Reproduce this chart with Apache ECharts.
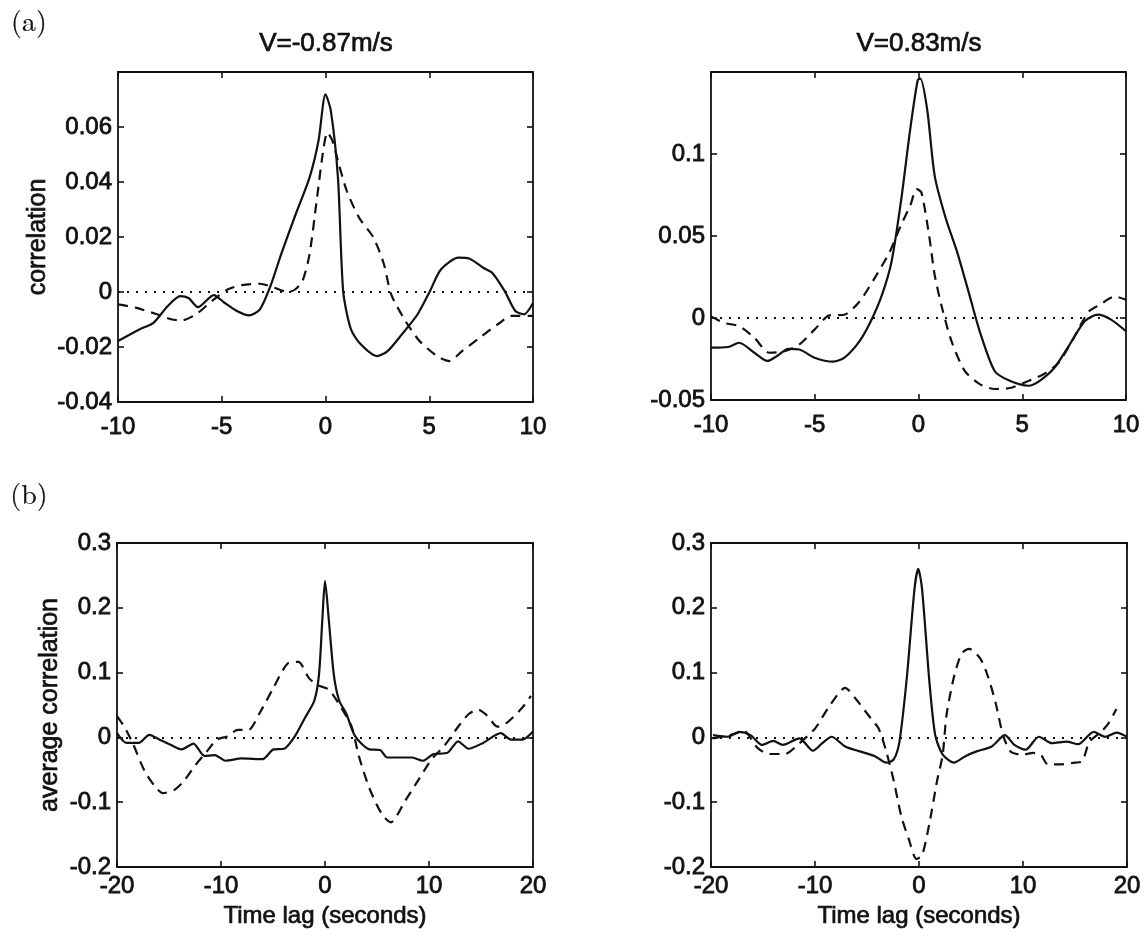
<!DOCTYPE html>
<html>
<head>
<meta charset="utf-8">
<script src="https://cdn.jsdelivr.net/npm/echarts@6/dist/echarts.min.js"></script>
<style>
  html, body { margin: 0; padding: 0; background: #fff; }
  #chart { width: 1148px; height: 936px; }
</style>
</head>
<body>
<div id="chart"></div>
<script>
// (a) cross-correlation at two wind speeds, [lag in s, correlation]
const negSpeedSolid = [[-10,-0.0178],[-8.97,-0.0136],[-8.29,-0.0112],[-7.6,-0.0051],[-7.0,-0.0015],[-6.6,-0.0022],[-6.15,-0.0055],[-5.38,-0.0011],[-4.87,-0.0039],[-4.27,-0.0069],[-3.68,-0.0085],[-3.16,-0.0063],[-2.65,0.0022],[-2.14,0.0137],[-1.45,0.028],[-0.77,0.0416],[-0.34,0.0549],[0,0.0719],[0.26,0.0658],[0.6,0.0416],[0.85,0.0004],[1.2,-0.013],[1.62,-0.0184],[2.48,-0.0233],[2.99,-0.0215],[3.68,-0.0154],[4.44,-0.0081],[5.04,0.0004],[5.56,0.0082],[6.41,0.0125],[6.92,0.0122],[7.6,0.0088],[8.03,0.007],[8.63,0.0004],[9.15,-0.0069],[9.57,-0.0081],[10,-0.004]];
const negSpeedDashed = [[-10,-0.0045],[-9.15,-0.0057],[-8.12,-0.0081],[-7.44,-0.0099],[-6.92,-0.0103],[-6.24,-0.0081],[-5.38,-0.0027],[-4.7,0.001],[-4.02,0.0025],[-3.16,0.003],[-2.48,0.0016],[-1.79,0],[-1.45,0.001],[-1.11,0.004],[-0.77,0.0137],[-0.43,0.033],[-0.09,0.0525],[0.09,0.058],[0.34,0.0549],[0.6,0.0476],[1.03,0.0367],[1.62,0.027],[2.31,0.0198],[2.82,0.01],[3.16,-0.0008],[3.85,-0.0105],[4.53,-0.0178],[5.38,-0.0233],[5.98,-0.0251],[6.58,-0.0215],[7.44,-0.0166],[8.29,-0.0118],[8.97,-0.0087],[10,-0.0087]];
const posSpeedSolid = [[-10,-0.0181],[-9.18,-0.0177],[-8.64,-0.0151],[-7.91,-0.0212],[-7.28,-0.0262],[-6.82,-0.0232],[-6.28,-0.0188],[-5.74,-0.0192],[-5.01,-0.0242],[-4.11,-0.0266],[-3.57,-0.0242],[-2.84,-0.0141],[-2.3,-0.002],[-1.76,0.0141],[-1.3,0.0343],[-0.85,0.0706],[-0.4,0.115],[-0.04,0.145],[0.09,0.146],[0.42,0.127],[0.78,0.0867],[1.32,0.0605],[1.86,0.0403],[2.41,0.0161],[2.95,-0.0081],[3.67,-0.0323],[4.4,-0.0383],[5.3,-0.0413],[5.84,-0.0383],[6.56,-0.0302],[7.29,-0.0161],[8.01,-0.002],[8.64,0.002],[9.28,-0.001],[10,-0.0081]];
const posSpeedDashed = [[-10,0.001],[-9.37,-0.003],[-8.64,-0.005],[-7.91,-0.0121],[-7.19,-0.0212],[-6.46,-0.0202],[-5.74,-0.0161],[-5.01,-0.0071],[-4.29,0.0016],[-3.57,0.002],[-2.84,0.0101],[-2.12,0.0242],[-1.39,0.0403],[-0.85,0.0565],[-0.4,0.0685],[-0.09,0.0786],[0.14,0.0766],[0.51,0.0504],[0.78,0.0262],[1.14,0.006],[1.59,-0.0141],[2.23,-0.0323],[2.95,-0.0403],[3.67,-0.0433],[4.4,-0.0427],[5.12,-0.0393],[6.03,-0.0343],[6.76,-0.0272],[7.48,-0.0121],[8.21,0.004],[8.74,0.0081],[9.46,0.0131],[10,0.0111]];

// (b) average correlation, [lag in s, correlation]
const negAvgSolid = [[-20,0.0065],[-19.1,-0.0085],[-17.9,-0.0085],[-16.9,0.004],[-15.9,-0.0035],[-14.9,-0.011],[-13.8,-0.0185],[-12.65,-0.0095],[-11.6,-0.0285],[-10.6,-0.0275],[-9.57,-0.036],[-8.03,-0.0325],[-5.98,-0.0335],[-4.96,-0.0185],[-3.93,-0.0175],[-2.91,0.0015],[-1.88,0.0315],[-1.03,0.0565],[-0.58,0.0965],[-0.24,0.1865],[0,0.2415],[0.34,0.1865],[0.85,0.0965],[1.37,0.0565],[2.05,0.0365],[2.91,0.0015],[4.27,-0.0185],[5.3,-0.0195],[5.98,-0.031],[7.35,-0.031],[8.38,-0.031],[9.4,-0.036],[10.4,-0.026],[11.8,-0.0235],[12.8,-0.006],[13.8,-0.0175],[15.2,-0.0085],[16.9,0.0065],[17.9,-0.0035],[18.97,-0.0035],[20,0.009]];
const negAvgDashed = [[-20,0.033],[-19.3,0.0165],[-18.5,-0.0085],[-17.3,-0.0535],[-16.2,-0.0785],[-15.6,-0.086],[-14.5,-0.081],[-13.5,-0.066],[-12.5,-0.0435],[-11.45,-0.0235],[-10.4,-0.0035],[-9.4,0.0015],[-8.38,0.0115],[-7.35,0.0115],[-6.32,0.0365],[-4.96,0.0765],[-3.59,0.114],[-2.56,0.1165],[-1.54,0.0915],[-0.68,0.0805],[0.34,0.074],[1.54,0.0465],[2.56,0.0165],[3.25,-0.0285],[4.27,-0.0785],[5.47,-0.1185],[6.32,-0.131],[7.69,-0.0985],[9.06,-0.0635],[10.26,-0.0335],[11.45,-0.0135],[12.8,0.0165],[13.85,0.0365],[14.7,0.043],[15.56,0.034],[16.6,0.0165],[17.6,0.024],[19,0.0465],[19.8,0.064]];
const posAvgSolid = [[-19.8,0.0035],[-18.4,0.001],[-17.3,0.0085],[-16.2,0.0035],[-15.1,-0.0116],[-14.0,-0.0055],[-13.1,-0.0116],[-11.5,-0.0015],[-10.2,-0.0206],[-9.3,-0.009],[-8.4,0.001],[-7.1,-0.014],[-5.7,-0.0216],[-4.24,-0.029],[-3.15,-0.039],[-2.43,-0.034],[-1.88,-0.0065],[-1.16,0.094],[-0.43,0.2296],[-0.07,0.26],[0.29,0.2296],[1.01,0.0839],[1.56,0.0035],[2.28,-0.0266],[3.37,-0.039],[4.46,-0.029],[5.54,-0.0216],[6.99,-0.014],[8.26,0.0035],[9.17,-0.0116],[10.25,-0.019],[11.52,0.001],[12.79,-0.009],[14.2,-0.0065],[15.3,-0.0105],[16.8,0.0085],[17.9,0.001],[19,0.0075],[20,0.001]];
const posAvgDashed = [[-19.8,-0.0015],[-17.6,0.006],[-16.9,0.011],[-15.5,-0.0166],[-14.4,-0.0256],[-12.9,-0.0256],[-11.5,-0.009],[-10.0,0.0136],[-8.6,0.0487],[-7.1,0.0764],[-6.05,0.0588],[-4.6,0.0286],[-3.88,0.0136],[-3.15,-0.0216],[-2.43,-0.0668],[-1.7,-0.122],[-0.98,-0.157],[-0.25,-0.1874],[0.29,-0.1824],[1.01,-0.132],[1.74,-0.0668],[2.28,-0.0266],[2.64,0.0337],[3.37,0.094],[4.09,0.1291],[4.82,0.1367],[5.9,0.1216],[6.63,0.094],[7.36,0.0538],[8.08,0.0035],[8.8,-0.0216],[9.9,-0.0266],[10.98,-0.024],[11.7,-0.0266],[12.4,-0.0417],[13.5,-0.0417],[15.0,-0.039],[15.7,-0.0367],[16.4,-0.0065],[17.5,0.0085],[18.2,0.0211],[18.98,0.0437]];

// axis ranges: [min, max, step]
const lagRangeA = [-10, 10, 5];
const lagRangeB = [-20, 20, 10];
const corrRangeNeg = [-0.04, 0.08, 0.02];
const corrRangePos = [-0.05, 0.15, 0.05];
const corrRangeAvg = [-0.2, 0.3, 0.1];

const panelTitles = ['V=-0.87m/s', 'V=0.83m/s'];
const yNames = ['correlation', 'average correlation'];
const xName = 'Time lag (seconds)';
const partLabels = ['(a)', '(b)'];

const SANS = "'Liberation Sans', Arial, Helvetica, sans-serif";
const SERIF = "'Latin Modern Roman', 'DejaVu Serif', 'Liberation Serif', serif";
const INK = '#111';

const panels = [
  { grid: { left: 118, top: 72, width: 415, height: 330 }, x: lagRangeA, y: corrRangeNeg, hideTop: true,  solid: negSpeedSolid, dashed: negSpeedDashed, xMargin: 13 },
  { grid: { left: 711, top: 72, width: 415, height: 328 }, x: lagRangeA, y: corrRangePos, hideTop: true,  solid: posSpeedSolid, dashed: posSpeedDashed, xMargin: 13 },
  { grid: { left: 117, top: 543, width: 416, height: 324 }, x: lagRangeB, y: corrRangeAvg, hideTop: false, solid: negAvgSolid,   dashed: negAvgDashed,   xMargin: 7 },
  { grid: { left: 711, top: 543, width: 416, height: 324 }, x: lagRangeB, y: corrRangeAvg, hideTop: false, solid: posAvgSolid,   dashed: posAvgDashed,   xMargin: 7 }
];

const tickFmt = v => String(Math.round(v * 1000) / 1000);
const frameLine = { show: true, onZero: false, lineStyle: { color: INK, width: 1.8 } };
const innerTick = { show: true, inside: true, length: 6, lineStyle: { color: INK, width: 1.6 } };
const labelStyle = { color: INK, fontFamily: SANS, fontSize: 24, textBorderColor: INK, textBorderWidth: 0.8 };

const grids = [], xAxes = [], yAxes = [], series = [];

panels.forEach((p, i) => {
  grids.push(Object.assign({ containLabel: false }, p.grid));
  const xBase = { type: 'value', gridIndex: i, min: p.x[0], max: p.x[1], interval: p.x[2],
                  axisLine: frameLine, axisTick: innerTick, splitLine: { show: false } };
  const yBase = { type: 'value', gridIndex: i, min: p.y[0], max: p.y[1], interval: p.y[2],
                  axisLine: frameLine, axisTick: innerTick, splitLine: { show: false } };
  xAxes.push(Object.assign({}, xBase, { position: 'bottom',
    axisLabel: Object.assign({ margin: p.xMargin, formatter: tickFmt, showMinLabel: true, showMaxLabel: true }, labelStyle) }));
  xAxes.push(Object.assign({}, xBase, { position: 'top', axisLabel: { show: false } }));
  yAxes.push(Object.assign({}, yBase, { position: 'left',
    axisLabel: Object.assign({ margin: 6, formatter: tickFmt, showMinLabel: true, showMaxLabel: !p.hideTop }, labelStyle) }));
  yAxes.push(Object.assign({}, yBase, { position: 'right', axisLabel: { show: false } }));

  series.push({
    type: 'line', xAxisIndex: 2 * i, yAxisIndex: 2 * i, data: p.solid,
    showSymbol: false, smooth: 0.25, clip: true,
    lineStyle: { color: INK, width: 2.2 },
    markLine: {
      silent: true, symbol: ['none', 'none'], label: { show: false },
      lineStyle: { color: INK, width: 1.8, type: [2, 7] },
      data: [{ yAxis: 0 }]
    },
    z: 3
  });
  series.push({
    type: 'line', xAxisIndex: 2 * i, yAxisIndex: 2 * i, data: p.dashed,
    showSymbol: false, smooth: 0.25, clip: true,
    lineStyle: { color: INK, width: 2.2, type: [10, 7] },
    z: 2
  });
});

// free-standing text: titles, axis names, part labels
const txt = (x, y, text, font, opts) => Object.assign({
  type: 'text', x: x, y: y, silent: true,
  style: Object.assign({ text: text, font: font, fill: INK, align: 'center', verticalAlign: 'middle',
                         stroke: INK, lineWidth: 0.7 }, (opts && opts.style) || {})
}, (opts && opts.el) || {});

const graphics = [
  txt(29, 22, partLabels[0], '28px ' + SERIF, { style: { lineWidth: 0.2 } }),
  txt(29, 495, partLabels[1], '28px ' + SERIF, { style: { lineWidth: 0.2 } }),
  txt(326, 44, panelTitles[0], '26px ' + SANS),
  txt(919, 44, panelTitles[1], '26px ' + SANS),
  txt(38, 237, yNames[0], '25px ' + SANS, { el: { rotation: Math.PI / 2 } }),
  txt(50, 705, yNames[1], '25px ' + SANS, { el: { rotation: Math.PI / 2 } }),
  txt(325, 916, xName, '24px ' + SANS),
  txt(919, 916, xName, '24px ' + SANS)
];

const chart = echarts.init(document.getElementById('chart'), null, { renderer: 'canvas' });
chart.setOption({
  backgroundColor: '#ffffff',
  animation: false,
  grid: grids,
  xAxis: xAxes,
  yAxis: yAxes,
  series: series,
  graphic: graphics
});
</script>
</body>
</html>
